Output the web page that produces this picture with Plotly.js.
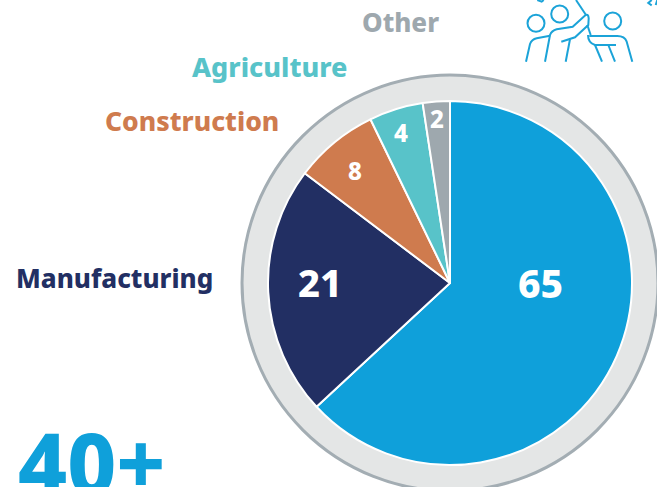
<!DOCTYPE html>
<html><head><meta charset="utf-8">
<script src="https://cdn.plot.ly/plotly-3.0.1.min.js"></script>
<style>html,body{margin:0;padding:0;background:#fff;overflow:hidden}</style>
</head><body><div id="chart" style="width:657px;height:487px"></div>
<script>
const categories = ['Blue share', 'Manufacturing', 'Construction', 'Agriculture', 'Other'];
const sliceLabels = ['65', '21', '8', '4', '2'];
// Slice sizes as drawn in the picture (the drawing differs a little from its printed numbers)
const sliceSizes = [63.1, 22.2, 7.5, 4.8, 2.4];
const sliceColors = ['#0fa0da', '#222f63', '#cf7b4e', '#58c3c9', '#9ea8ae'];
const W = 657, H = 487;
const FONT = '"Noto Sans", "Open Sans", sans-serif';
const fx = x => x / W, fy = y => 1 - y / H;
const cx = 450, cy = 283, pieR = 182, ringR = 208;

// convert pixel path to paper path
const P = d => d.replace(/(-?[\d.]+),(-?[\d.]+)/g, (m, a, b) => fx(+a) + ',' + fy(+b));
const z = (x, y) => (500 + x / 3).toFixed(1) + ',' + (y / 3).toFixed(1);
const iconPaths = [
  `M${z(78,185)} L${z(90,132)} Q${z(95,118)} ${z(110,115)} L${z(150,107)}`,
  `M${z(135,185)} L${z(150,105)} Q${z(155,92)} ${z(170,88)} L${z(218,80)} L${z(256,46)} Q${z(265,40)} ${z(266,55)} L${z(265,75)} L${z(225,112)} L${z(184,125)}`,
  `M${z(197,185)} L${z(210,118)}`,
  `M${z(228,0)} L${z(258,45)}`,
  `M${z(262,75)} L${z(272,105)}`,
  `M${z(264,105)} Q${z(264,128)} ${z(285,135)} L${z(348,135)}`,
  `M${z(285,135)} L${z(306,185)}`,
  `M${z(325,135)} L${z(345,185)}`,
  `M${z(268,108)} L${z(352,108)} Q${z(374,108)} ${z(380,125)} L${z(397,185)}`,
  `M${z(112,0)} L${z(125,5)} L${z(131,0)}`,
  `M${z(455,0)} L${z(445,9)} L${z(455,16)}`,
  `M${z(472,0)} L${z(467,15)}`
];
const iconCircles = [[536, 23.3], [559.7, 14], [612.7, 21]];
const iconColor = '#1ba3d8';

const shapes = [
  {type:'circle', xref:'paper', yref:'paper', layer:'below',
   x0:fx(cx-ringR), x1:fx(cx+ringR), y0:fy(cy+ringR), y1:fy(cy-ringR),
   fillcolor:'#e4e6e6', line:{color:'#a3adb3', width:3}}
];
iconCircles.forEach(c => shapes.push({type:'circle', xref:'paper', yref:'paper', layer:'below',
  x0:fx(c[0]-8.5), x1:fx(c[0]+8.5), y0:fy(c[1]+8.5), y1:fy(c[1]-8.5),
  line:{color:iconColor, width:2}}));
iconPaths.forEach(d => shapes.push({type:'path', xref:'paper', yref:'paper', layer:'below',
  path:P(d), line:{color:iconColor, width:2}}));

const note = (text, x, y, size, color, anchor) => ({text:text, xref:'paper', yref:'paper',
  x:fx(x), y:fy(y), xanchor:anchor || 'center', yanchor:'middle', showarrow:false,
  font:{family:FONT, size:size, color:color, weight:800}});

const annotations = [
  note(sliceLabels[0], 540, 282, 39, '#fff'),
  note(sliceLabels[1], 320, 282, 38, '#fff'),
  note(sliceLabels[2], 355, 171, 24, '#fff'),
  note(sliceLabels[3], 401, 132, 24, '#fff'),
  note(sliceLabels[4], 437, 118, 24, '#fff'),
  note(categories[1], 215, 278, 26, sliceColors[1], 'right'),
  note(categories[2], 281, 121, 26.5, sliceColors[2], 'right'),
  note(categories[3], 349, 66, 27, sliceColors[3], 'right'),
  note(categories[4], 441, 22, 26, sliceColors[4], 'right'),
  note('40+', 16, 462, 85, '#0fa0da', 'left')
];

Plotly.newPlot('chart', [{
  type:'pie', labels:categories, values:sliceSizes, sort:false, direction:'clockwise', rotation:0,
  textinfo:'none', hoverinfo:'label+value',
  marker:{colors:sliceColors, line:{color:'#fff', width:2}},
  domain:{x:[fx(cx-pieR), fx(cx+pieR)], y:[fy(cy+pieR), fy(cy-pieR)]},
  showlegend:false
}], {
  width:W, height:H, margin:{l:0,r:0,t:0,b:0}, paper_bgcolor:'#fff', plot_bgcolor:'#fff',
  showlegend:false, shapes:shapes, annotations:annotations
}, {displayModeBar:false, staticPlot:true});
</script></body></html>
